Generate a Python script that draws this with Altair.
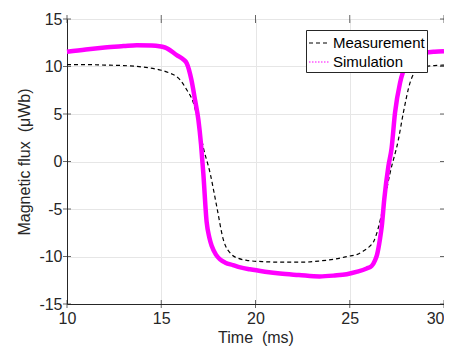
import altair as alt
import pandas as pd

# Measurement (black dashed)
time_meas = [10, 11, 12, 13, 14, 14.9, 15.4, 15.8, 16.0, 16.35, 16.7, 16.97, 17.23,
             17.59, 17.94, 18.29, 18.74, 19.1, 19.53, 20.5, 21.5, 22.5, 23.5, 24.13,
             25.0, 25.37, 25.7, 26.07, 26.25, 26.5, 26.78, 27.14, 27.58, 27.84, 28.2,
             28.64, 29.0, 29.5, 30.0]
flux_meas = [10.2, 10.2, 10.15, 10.1, 9.95, 9.65, 9.35, 8.95, 8.6, 7.55, 6.2, 4.1, 1.5,
             -1.2, -4.7, -8.2, -9.8, -10.2, -10.4, -10.55, -10.6, -10.6, -10.45, -10.3,
             -9.95, -9.8, -9.45, -8.9, -8.5, -7.1, -4.7, -1.2, 2.3, 5.1, 8.3,
             9.8, 10.0, 10.1, 10.15]

# Simulation (magenta, thick)
time_sim = [10, 11, 12, 13, 13.7, 14.5, 15.2, 15.82, 16.2, 16.35, 16.6, 16.79, 16.97,
            17.11, 17.23, 17.41, 17.55, 17.68, 17.9, 18.12, 18.4, 18.8, 19.2, 19.7,
            20.5, 21.3, 22.3, 23.4, 24.2, 24.84, 25.4, 25.9, 26.16, 26.34, 26.45, 26.6,
            26.7, 26.83, 27.05, 27.22, 27.4, 27.67, 28.02, 28.46, 29.0, 29.5, 30.0]
flux_sim = [11.55, 11.8, 12.0, 12.15, 12.25, 12.2, 12.0, 11.2, 10.7, 10.35, 8.6, 6.5, 4.4,
            1.8, -1.2, -6.4, -8.0, -8.9, -9.8, -10.3, -10.65, -10.9, -11.15, -11.35,
            -11.6, -11.8, -11.95, -12.1, -12.0, -11.86, -11.6, -11.26, -11.0, -10.4, -9.8, -8.2,
            -6.8, -4.0, -0.5, 1.4, 5.1, 8.3, 10.35, 11.2, 11.45, 11.55, 11.6]

series_names = ["Measurement", "Simulation"]
x_ticks = [10, 15, 20, 25, 30]
y_ticks = [-15, -10, -5, 0, 5, 10, 15]

W, H = 377, 285
AX = "#262626"
FONT = "Liberation Sans"
NB = "\u00a0"

df = pd.concat([
    pd.DataFrame({"t": time_meas, "v": flux_meas, "s": series_names[0]}),
    pd.DataFrame({"t": time_sim, "v": flux_sim, "s": series_names[1]}),
], ignore_index=True)

xs = alt.Scale(domain=[10, 30], nice=False)
ys = alt.Scale(domain=[-15, 15], nice=False)

x_enc = alt.X("t:Q", scale=xs, title="Time " + NB + "(ms)",
              axis=alt.Axis(values=x_ticks, ticks=False, labelPadding=6,
                            titlePadding=3, labelFontSize=16, titleFontSize=16,
                            labelAlign=alt.ExprRef("datum.value == 30 ? 'right' : 'center'"),
                            gridColor="#e6e6e6", domainColor=AX, labelColor=AX,
                            titleColor=AX, labelFont=FONT, titleFont=FONT,
                            titleFontWeight="normal"))
y_enc = alt.Y("v:Q", scale=ys, title="Magnetic flux " + NB + "(μWb)",
              axis=alt.Axis(values=y_ticks, ticks=False, labelPadding=5,
                            titlePadding=6, labelFontSize=16, titleFontSize=16,
                            labelExpr="'' + datum.value",
                            gridColor="#e6e6e6", domainColor=AX, labelColor=AX,
                            titleColor=AX, labelFont=FONT, titleFont=FONT,
                            titleFontWeight="normal"))

base = alt.Chart(df)

meas = base.transform_filter(alt.datum.s == series_names[0]).mark_line(
    color="black", strokeWidth=1.2, strokeDash=[4, 3], interpolate="monotone"
).encode(x=x_enc, y=y_enc)

sim = base.transform_filter(alt.datum.s == series_names[1]).mark_line(
    color="#ff00ff", strokeWidth=4.5, interpolate="monotone"
).encode(x=alt.X("t:Q", scale=xs), y=alt.Y("v:Q", scale=ys))

legend_layer = base.mark_line(opacity=0).encode(
    x=alt.X("t:Q", scale=xs), y=alt.Y("v:Q", scale=ys),
    color=alt.Color("s:N", scale=alt.Scale(domain=series_names, range=["black", "#ff00ff"]),
                    legend=alt.Legend(title=None, orient="none", legendX=239, legendY=11,
                                      symbolType="stroke", symbolSize=400,
                                      symbolStrokeWidth=1.2, symbolOpacity=1,
                                      labelFontSize=15, labelFont=FONT, labelColor="black",
                                      fillColor="white", strokeColor=AX, padding=2,
                                      rowPadding=0, labelOffset=3, cornerRadius=0)),
    strokeDash=alt.StrokeDash("s:N", scale=alt.Scale(domain=series_names,
                                                      range=[[4, 3], [1.5, 1.5]]),
                              legend=alt.Legend(title=None)),
)

tick_df_x = pd.DataFrame({"t": x_ticks})
tick_df_y = pd.DataFrame({"v": y_ticks})
tb = alt.Chart(tick_df_x).mark_tick(color=AX, thickness=1, size=8).encode(
    x=alt.X("t:Q", scale=xs), y=alt.value(H))
tt = alt.Chart(tick_df_x).mark_tick(color=AX, thickness=1, size=8).encode(
    x=alt.X("t:Q", scale=xs), y=alt.value(0))
tl = alt.Chart(tick_df_y).mark_tick(color=AX, thickness=1, size=8).encode(
    y=alt.Y("v:Q", scale=ys), x=alt.value(0))
tr = alt.Chart(tick_df_y).mark_tick(color=AX, thickness=1, size=8).encode(
    y=alt.Y("v:Q", scale=ys), x=alt.value(W))

chart = alt.layer(meas, sim, legend_layer, tb, tt, tl, tr).properties(
    width=W, height=H,
    autosize=alt.AutoSizeParams(type="none"),
    padding={"left": 59, "top": 11, "right": 0, "bottom": 43},
).configure_view(stroke=AX, strokeWidth=1).configure(background="white")

chart.save("out.html", embed_options={"renderer": "svg", "actions": False})
